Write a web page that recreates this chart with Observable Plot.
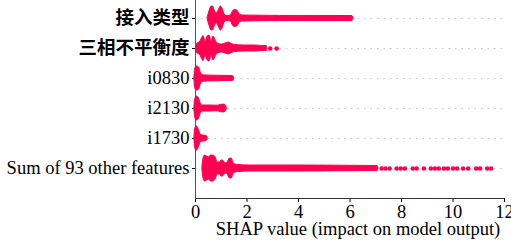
<!DOCTYPE html>
<html><head><meta charset="utf-8">
<script src="https://cdn.jsdelivr.net/npm/d3@7"></script>
<script src="https://cdn.jsdelivr.net/npm/@observablehq/plot@0.6"></script>
<style>body{margin:0;background:#fff}</style>
</head><body><div id="chart"></div>
<script>
const features = ["接入类型", "三相不平衡度", "i0830", "i2130", "i1730", "Sum of 93 other features"];
const xTicks = [0, 2, 4, 6, 8, 10, 12];
const xLabel = "SHAP value (impact on model output)";

// swarm density profiles: SHAP value and half-spread of the swarm (in row units)
const jieruX = [0.47, 0.53, 0.625, 0.68, 0.74, 0.82, 0.90, 0.98, 1.05, 1.13, 1.21, 1.37, 1.45, 1.52, 1.62, 1.72, 1.84, 2.5, 3.28, 6.09, 6.13];
const jieruS = [0.02, 0.20, 0.40, 0.40, 0.27, 0.17, 0.27, 0.40, 0.33, 0.13, 0.085, 0.10, 0.23, 0.28, 0.27, 0.13, 0.10, 0.093, 0.085, 0.083, 0.03];
const sanxiangX = [0.02, 0.08, 0.16, 0.23, 0.31, 0.39, 0.47, 0.55, 0.62, 0.70, 0.78, 0.86, 1.02, 1.17, 1.29, 1.37, 1.52, 1.91, 2.30, 2.58, 2.77];
const sanxiangS = [0.03, 0.17, 0.20, 0.30, 0.42, 0.23, 0.40, 0.43, 0.23, 0.40, 0.27, 0.17, 0.13, 0.17, 0.20, 0.17, 0.12, 0.10, 0.10, 0.085, 0.085];
const i0830X = [-0.04, -0.01, 0.06, 0.14, 0.20, 0.27, 0.39, 0.74, 1.45, 1.49];
const i0830S = [0.07, 0.33, 0.40, 0.37, 0.20, 0.12, 0.10, 0.093, 0.083, 0.04];
const i2130X = [-0.04, -0.01, 0.06, 0.14, 0.20, 0.27, 0.55, 0.86, 0.98, 1.09, 1.17, 1.21];
const i2130S = [0.07, 0.30, 0.40, 0.33, 0.17, 0.10, 0.10, 0.093, 0.12, 0.13, 0.10, 0.05];
const i1730X = [-0.04, -0.01, 0.06, 0.14, 0.20, 0.27, 0.43, 0.47];
const i1730S = [0.07, 0.33, 0.40, 0.27, 0.13, 0.10, 0.083, 0.04];
const otherX = [0.27, 0.31, 0.37, 0.45, 0.53, 0.59, 0.70, 0.78, 0.86, 0.94, 1.02, 1.09, 1.17, 1.25, 1.33, 1.41, 1.48, 1.64, 2.11, 4.06, 5.60, 7.07, 7.10];
const otherS = [0.07, 0.33, 0.43, 0.40, 0.37, 0.43, 0.43, 0.37, 0.20, 0.20, 0.27, 0.25, 0.17, 0.20, 0.33, 0.33, 0.17, 0.12, 0.10, 0.10, 0.093, 0.083, 0.04];

// isolated outlier points
const sanxiangTail = [2.9, 3.15];
const otherTail = [7.23, 7.38, 7.54, 7.81, 7.97, 8.13, 8.44, 8.59, 8.87, 9.14, 9.30, 9.45, 9.65, 9.80, 10.0, 10.16, 10.39, 10.59, 10.9, 11.05, 11.33, 11.48];

const profiles = [[jieruX, jieruS], [sanxiangX, sanxiangS], [i0830X, i0830S], [i2130X, i2130S], [i1730X, i1730S], [otherX, otherS]];
const areaData = profiles.flatMap(([xs, ss], i) => xs.map((x, k) => ({row: i, x, y1: i - ss[k], y2: i + ss[k]})));
const tailData = [
  ...sanxiangTail.map(x => ({row: 1, x})),
  ...otherTail.map(x => ({row: 5, x}))
];

const red = "#ff0052";

const chart = Plot.plot({
  width: 511,
  height: 243,
  marginLeft: 195,
  marginRight: 7,
  marginTop: 0,
  marginBottom: 45,
  style: {fontFamily: "'Liberation Serif','Noto Sans CJK SC',serif", fontSize: "18.5px", color: "#000", background: "#fff"},
  x: {domain: [0, 12], ticks: xTicks, tickSize: 4, tickPadding: 2, label: null},
  y: {domain: [-0.6, 6], reverse: true, ticks: d3.range(features.length), tickFormat: i => features[i], tickSize: 3, tickPadding: 3, label: null},
  marks: [
    Plot.ruleY(d3.range(features.length), {stroke: "#bbb", strokeWidth: 0.8, strokeDasharray: "1.5,5"}),
    Plot.areaY(areaData, {x: "x", y1: "y1", y2: "y2", z: "row", fill: red, stroke: red, strokeWidth: 1, curve: "monotone-x"}),
    Plot.dot(tailData, {x: "x", y: "row", r: 2.3, fill: red}),
    Plot.ruleX([0], {stroke: "#555", strokeWidth: 1}),
    Plot.ruleY([6], {stroke: "#333", strokeWidth: 1}),
    Plot.text([xLabel], {frameAnchor: "bottom", dx: 8, dy: 36, fontSize: 18.5})
  ]
});
// CJK feature names drawn heavier, as in the reference
d3.select(chart).selectAll("text").filter(function() { return /[\u4e00-\u9fff]/.test(this.textContent); })
  .attr("font-weight", 600);
document.getElementById("chart").appendChild(chart);
</script>
</body></html>
